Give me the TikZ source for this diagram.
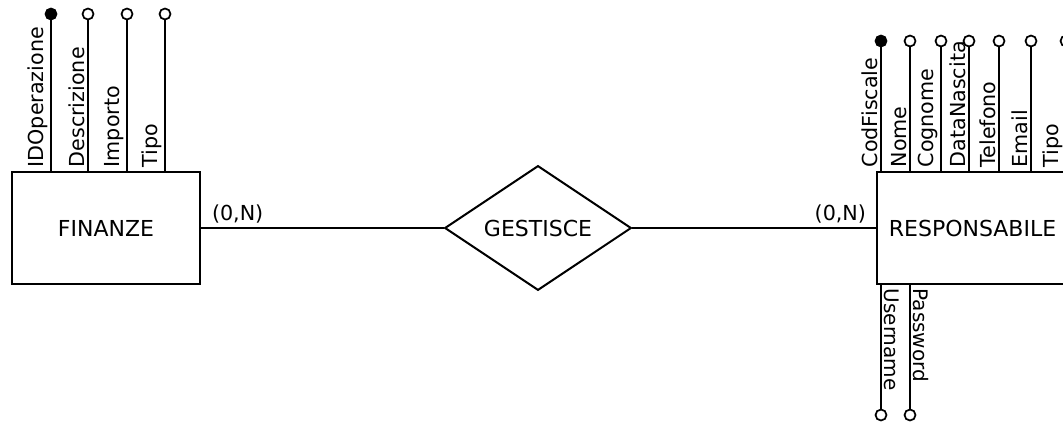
\documentclass[tikz,border=0pt]{standalone}
\usepackage{fontspec}
\setmainfont{DejaVu Sans}
\usetikzlibrary{positioning,shapes.geometric}
\tikzset{
  entity/.style={draw, line width=1.5pt, minimum width=141pt, minimum height=84pt, font=\fontsize{16.5}{18}\selectfont},
  relation/.style={draw, diamond, line width=1.5pt, inner sep=0pt, minimum width=140pt, minimum height=82.5pt, font=\fontsize{16.5}{18}\selectfont},
  attr/.style={draw, circle, fill=white, line width=1.3pt, inner sep=0pt, minimum size=8.25pt},
  keyattr/.style={attr, fill=black},
  attrup/.style={rotate=90, anchor=south west, inner sep=2pt, font=\fontsize{15.5}{17}\selectfont},
  attrdown/.style={rotate=-90, anchor=south west, inner sep=2pt, font=\fontsize{15}{17}\selectfont},
  card/.style={inner sep=0pt, font=\fontsize{15.5}{17}\selectfont}
}
\begin{document}
\begin{tikzpicture}[x=0.75pt, y=-0.75pt, line width=1.5pt]
\useasboundingbox (0,0) rectangle (1063,421);
% entities and relationship
\node[entity] (fin) at (106,228) {FINANZE};
\node[relation] (gest) at (538,228) {GESTISCE};
\node[entity, minimum width=143.25pt] (resp) at (972.5,228) {RESPONSABILE};
\draw (fin) -- (gest) -- (resp);
\node[card, above right=3pt and 7.5pt of fin.east] (cardfin) {(0,N)};
\node[card, above left=3pt and 6.75pt of resp.west] (cardresp) {(0,N)};
% attributes of FINANZE
\node[keyattr] (idop) at (51,14) {};
\draw (idop) -- (idop |- fin.north) node[attrup] {IDOperazione};
\node[attr] (descr) at (88,14) {};
\draw (descr) -- (descr |- fin.north) node[attrup] {Descrizione};
\node[attr] (importo) at (127,14) {};
\draw (importo) -- (importo |- fin.north) node[attrup] {Importo};
\node[attr] (tipofin) at (165,14) {};
\draw (tipofin) -- (tipofin |- fin.north) node[attrup] {Tipo};
% attributes of RESPONSABILE
\node[keyattr] (codfisc) at (881,41) {};
\draw (codfisc) -- (codfisc |- resp.north) node[attrup] {CodFiscale};
\node[attr] (nome) at (910,41) {};
\draw (nome) -- (nome |- resp.north) node[attrup] {Nome};
\node[attr] (cognome) at (941,41) {};
\draw (cognome) -- (cognome |- resp.north) node[attrup] {Cognome};
\node[attr] (datanasc) at (969,41) {};
\draw (datanasc) -- (datanasc |- resp.north) node[attrup] {DataNascita};
\node[attr] (telefono) at (999,41) {};
\draw (telefono) -- (telefono |- resp.north) node[attrup] {Telefono};
\node[attr] (email) at (1031,41) {};
\draw (email) -- (email |- resp.north) node[attrup] {Email};
\node[attr] (tiporesp) at (1066,41) {};
\draw (tiporesp) -- (tiporesp |- resp.north) node[attrup] {Tipo};
\node[attr] (username) at (881,415) {};
\draw (username) -- (username |- resp.south) node[attrdown] {Username};
\node[attr] (password) at (910,415) {};
\draw (password) -- (password |- resp.south) node[attrdown] {Password};
\end{tikzpicture}
\end{document}
